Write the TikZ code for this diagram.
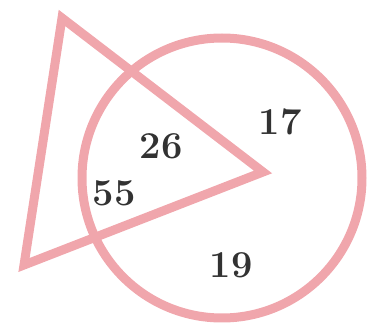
\documentclass[tikz,border=0pt]{standalone}
\usepackage{fontspec}
\usepackage{tikz}
\usetikzlibrary{positioning}
\definecolor{rosy}{RGB}{240,166,172}
\definecolor{ink}{RGB}{50,50,50}

\begin{document}
\begin{tikzpicture}[
  x=1pt,y=-1pt,
  outline/.style={draw=rosy,line width=9pt,line join=miter},
  num/.style={text=ink,font=\fontsize{38}{42}\selectfont\bfseries,inner sep=0pt}
]
  \useasboundingbox (0,0) rectangle (378,331);
  % Shapes
  \draw[outline] (222,178) circle[radius=140];
  \draw[outline] (62,18) -- (263,172) -- (24,265) -- cycle;

  % Counts
  \node[num] (c17) at (280,122) {17};
  \node[num] (c26) at (161,146) {26};
  \node[num] (c55) at (114,193) {55};
  \node[num] (c19) at (231,265) {19};
\end{tikzpicture}
\end{document}
